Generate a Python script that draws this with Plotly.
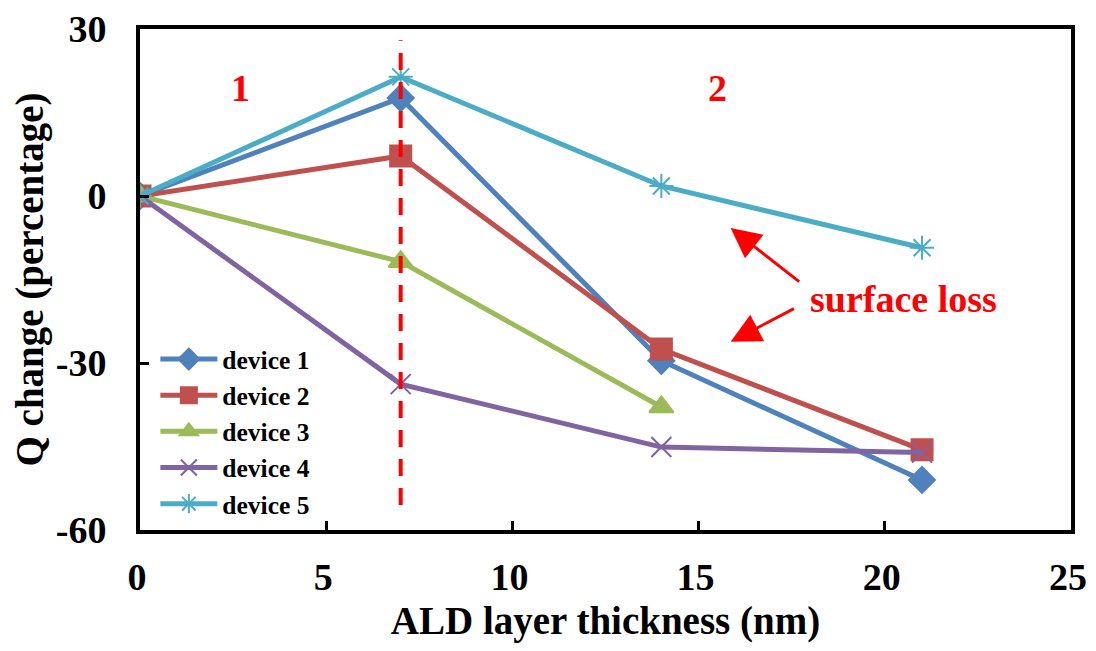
import plotly.graph_objects as go

x_vals = [0, 7, 14, 21]
device1 = [0, 17.6, -29.6, -51.0]
device2 = [0, 7.2, -27.5, -45.6]
device3 = [0, -11.8, -37.9]
device4 = [0, -33.8, -45.1, -46.1]
device5 = [0, 21.4, 1.8, -9.3]
names = ["device 1", "device 2", "device 3", "device 4", "device 5"]
colors = ["#4F81BD", "#C0504D", "#9BBB59", "#8064A2", "#4BACC6"]
symbols = ["diamond", "square", "triangle-up", "x-thin-open", "asterisk-open"]
sizes = [20, 21, 21, 20, 20]
series = [device1, device2, device3, device4, device5]
x_ticks = [0, 5, 10, 15, 20, 25]
x_ticktext = ["0", "5", "10", "15", "20", "25"]
y_ticks = [-60, -30, 0, 30]
y_ticktext = ["-60", "-30", "0", "30"]

FONT = "Liberation Serif"
BIG = 38

def f(size, color="black"):
    return dict(family=FONT, size=size, color=color, weight="bold")

fig = go.Figure()
for name, ys, c, s, sz in zip(names, series, colors, symbols, sizes):
    fig.add_trace(go.Scatter(
        x=x_vals[:len(ys)], y=ys, name=name, mode="lines+markers",
        line=dict(color=c, width=5),
        marker=dict(symbol=s, size=sz, color=c, line=dict(color=c, width=2)),
    ))

fig.add_shape(type="line", x0=7, x1=7, y0=-55.5, y1=28, xref="x", yref="y",
              line=dict(color="#FF0000", width=4, dash="17px,12px"))

fig.add_annotation(x=2.7, y=19.4, text="1", showarrow=False, font=f(BIG, "#FF0000"))
fig.add_annotation(x=15.5, y=19.4, text="2", showarrow=False, font=f(BIG, "#FF0000"))
fig.add_annotation(x=20.5, y=-18.5, text="surface loss", showarrow=False,
                   font=f(BIG, "#FF0000"))
fig.add_annotation(x=15.86, y=-5.75, ax=17.74, ay=-15.6, xref="x", yref="y",
                   axref="x", ayref="y", text="", showarrow=True,
                   arrowhead=2, arrowsize=2, arrowwidth=3, arrowcolor="#FF0000")
fig.add_annotation(x=15.86, y=-26.2, ax=17.6, ay=-20.1, xref="x", yref="y",
                   axref="x", ayref="y", text="", showarrow=True,
                   arrowhead=2, arrowsize=2, arrowwidth=3, arrowcolor="#FF0000")

fig.update_layout(
    width=1080, height=635,
    margin=dict(l=132, r=17, t=21, b=113),
    paper_bgcolor="white", plot_bgcolor="white",
    font=f(BIG),
    showlegend=True,
    legend=dict(x=0.0165, y=0.006, xanchor="left", yanchor="bottom",
                bgcolor="rgba(0,0,0,0)", font=f(25.5),
                tracegroupgap=0, itemwidth=57, traceorder="normal"),
    xaxis=dict(range=[0, 25], tickvals=x_ticks, ticktext=x_ticktext, ticks="inside",
               ticklen=9, tickwidth=3, tickcolor="black", showgrid=False, zeroline=False,
               showline=True, linecolor="black", linewidth=4, mirror=True,
               automargin=False, tickfont=f(BIG), ticklabelstandoff=10,
               ticklabelshift=-3, ticklabeloverflow="allow",
               title=dict(text="ALD layer thickness (nm)", font=f(39))),
    yaxis=dict(range=[-60, 30], tickvals=y_ticks, ticktext=y_ticktext, ticks="inside",
               ticklen=9, tickwidth=3, tickcolor="black", showgrid=False, zeroline=False,
               showline=True, linecolor="black", linewidth=4, mirror=True,
               automargin=False, tickfont=f(BIG), ticklabelstandoff=22,
               ticklabeloverflow="allow",
               title=dict(text="Q change (percentage)", font=f(39))),
)

fig.write_html("out.html")
